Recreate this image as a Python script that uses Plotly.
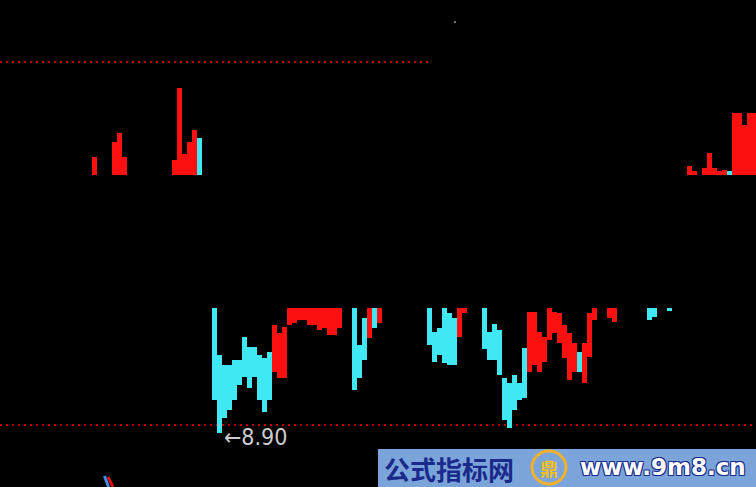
import plotly.graph_objects as go

RED = "#ff1010"
CYAN = "#40e8f4"

# ---- price panel: floating high/low bars ----
bar_idx = [42, 43, 44, 45, 46, 47, 48, 49, 50, 51, 52, 53,
           54, 55, 56, 57, 58, 59, 60, 61, 62, 63, 64, 65, 66, 67,
           70, 71, 72, 73, 74, 75,
           85, 86, 87, 88, 89, 90, 91, 92,
           96, 97, 98, 99, 100, 101, 102, 103, 104,
           105, 106, 107, 108, 109, 110, 111, 112, 113, 114, 115, 116, 117, 118, 121, 122,
           129, 130, 133]
bar_high = [10.15, 9.68, 9.58, 9.58, 9.63, 9.63, 9.86, 9.76, 9.76, 9.68, 9.65, 9.71,
            9.98, 9.90, 9.96, 10.15, 10.15, 10.15, 10.15, 10.15, 10.15, 10.15, 10.15, 10.15, 10.15, 10.15,
            10.15, 9.78, 10.05, 10.15, 10.15, 10.15,
            10.15, 9.91, 9.95, 10.15, 10.10, 10.05, 10.15, 10.15,
            10.15, 9.91, 9.99, 9.93, 9.45, 9.40, 9.48, 9.40, 9.75,
            10.11, 10.11, 9.91, 9.86, 10.15, 10.11, 10.10, 9.98, 9.90, 9.80, 9.71, 9.80, 10.10, 10.15, 10.15, 10.15,
            10.15, 10.15, 10.15]
bar_low = [9.23, 8.90, 9.05, 9.13, 9.23, 9.38, 9.46, 9.35, 9.46, 9.23, 9.11, 9.23,
           9.51, 9.45, 9.45, 9.98, 10.00, 10.03, 10.03, 9.98, 9.98, 9.93, 9.95, 9.88, 9.88, 9.95,
           9.33, 9.45, 9.63, 9.85, 9.95, 10.00,
           9.78, 9.61, 9.68, 9.60, 9.58, 9.58, 9.86, 10.10,
           9.74, 9.63, 9.63, 9.48, 9.03, 8.95, 9.13, 9.23, 9.25,
           9.51, 9.58, 9.51, 9.61, 9.83, 9.90, 9.80, 9.65, 9.43, 9.51, 9.51, 9.40, 9.66, 10.03, 10.05, 10.01,
           10.03, 10.06, 10.12]
bar_dir = (["C"] * 12 + ["R"] * 14 + ["C"] * 3 + ["R", "C", "R"] + ["C"] * 6 + ["R"] * 2
           + ["C"] * 9 + ["R"] * 10 + ["C"] + ["R"] * 5 + ["C"] * 3)

# ---- upper panel: volume-like bars ----
vol_idx = [18, 22, 23, 24, 34, 35, 36, 37, 38, 39,
           137, 138, 140, 141, 142, 143, 144, 145, 146, 147, 148, 149, 150]
vol_val = [1800, 3300, 4200, 1800, 1500, 8700, 2100, 3300, 4500, 3700,
           900, 400, 700, 2200, 700, 400, 500, 400, 6200, 6200, 5000, 6200, 6200]
vol_dir = ["R"] * 9 + ["C"] + ["R"] * 7 + ["C"] + ["R"] * 5

# cut-off strokes of a lower panel (bottom-left edge)
tail_blue_x = [20.0, 20.8]
tail_blue_y = [8.47, 8.36]
tail_red_x = [20.7, 21.7]
tail_red_y = [8.46, 8.36]

# stray tick at the top
dot_x = [90.1]
dot_y = [13.01]

# reference levels (dotted)
upper_level = 12.61
lower_level = 8.98
low_label = 8.90

cmap = {"R": RED, "C": CYAN}

fig = go.Figure()
fig.add_trace(go.Bar(
    x=bar_idx,
    y=[h - l for h, l in zip(bar_high, bar_low)],
    base=bar_low,
    width=1.0,
    marker=dict(color=[cmap[d] for d in bar_dir], line=dict(width=0)),
    yaxis="y",
    hoverinfo="skip",
))
fig.add_trace(go.Bar(
    x=vol_idx,
    y=vol_val,
    width=1.0,
    marker=dict(color=[cmap[d] for d in vol_dir], line=dict(width=0)),
    yaxis="y2",
    hoverinfo="skip",
))
fig.add_trace(go.Scatter(x=tail_blue_x, y=tail_blue_y, mode="lines",
                         line=dict(color="#3a8ee8", width=3), hoverinfo="skip", cliponaxis=False))
fig.add_trace(go.Scatter(x=tail_red_x, y=tail_red_y, mode="lines",
                         line=dict(color="#e01010", width=3), hoverinfo="skip", cliponaxis=False))
fig.add_trace(go.Scatter(x=dot_x, y=dot_y, mode="markers",
                         marker=dict(color="#707070", size=2, symbol="square"), hoverinfo="skip"))

shapes = [
    dict(type="line", xref="x", yref="y", x0=-0.9, x1=84.7, y0=upper_level, y1=upper_level,
         line=dict(color="#c00000", width=2, dash="2px,4px"), layer="below"),
    dict(type="line", xref="x", yref="y", x0=-0.9, x1=150.3, y0=lower_level, y1=lower_level,
         line=dict(color="#c00000", width=2, dash="2px,4px"), layer="below"),
    # watermark banner
    dict(type="rect", xref="paper", yref="paper", x0=378 / 756, x1=1.0, y0=0, y1=38 / 487,
         fillcolor="#7ba5da", line=dict(width=0), layer="above"),
    dict(type="circle", xref="paper", yref="paper", x0=532 / 756, x1=566 / 756,
         y0=3 / 487, y1=36 / 487, fillcolor="#7ba5da",
         line=dict(color="#f0b030", width=3), layer="above"),
]

annotations = [
    dict(xref="x", yref="y", x=43.5, y=low_label, text="←8.90", showarrow=False,
         xanchor="left", yanchor="middle", yshift=-4,
         font=dict(family="DejaVu Sans Condensed, Liberation Sans, sans-serif", size=23, color="#cccccc")),
    dict(xref="paper", yref="paper", x=382 / 756, y=19 / 487, text="<b>公式指标网</b>",
         showarrow=False, xanchor="left", yanchor="middle",
         font=dict(family="Noto Sans CJK SC", size=26, color="#1a2a8a")),
    dict(xref="paper", yref="paper", x=549 / 756, y=19 / 487, text="<b>鼎</b>",
         showarrow=False, xanchor="center", yanchor="middle",
         font=dict(family="Noto Sans CJK SC", size=18, color="#f0c020")),
    dict(xref="paper", yref="paper", x=578 / 756, y=20 / 487, text="<b>www.9m8.cn</b>",
         showarrow=False, xanchor="left", yanchor="middle",
         font=dict(family="DejaVu Sans", size=23, color="#ffffff",
                   shadow="1px 1px 0 #1a2a8a, -1px -1px 0 #1a2a8a, 1px -1px 0 #1a2a8a, -1px 1px 0 #1a2a8a")),
]

fig.update_layout(
    width=756, height=487,
    margin=dict(l=0, r=0, t=0, b=0),
    paper_bgcolor="#000000", plot_bgcolor="#000000",
    showlegend=False, bargap=0, barmode="overlay",
    xaxis=dict(range=[-0.9, 150.3], visible=False, fixedrange=True),
    yaxis=dict(range=[8.36, 13.23], visible=False, fixedrange=True),
    yaxis2=dict(range=[-31200, 17500], overlaying="y", visible=False, fixedrange=True),
    shapes=shapes,
    annotations=annotations,
)

fig.write_html(
    "out.html",
    config={"displayModeBar": False},
    post_script="document.body.style.margin='0';document.body.style.background='#000';"
                "document.body.style.overflow='hidden';",
)
